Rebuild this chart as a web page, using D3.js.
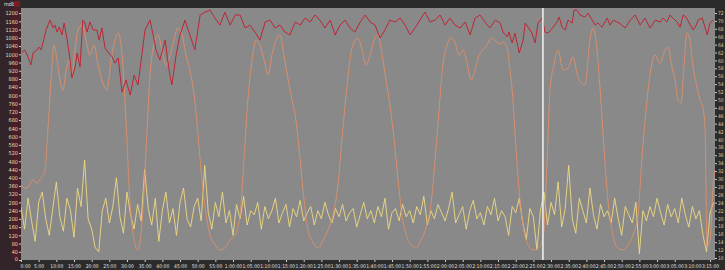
<!DOCTYPE html>
<html>
<head>
<meta charset="utf-8">
<script src="https://cdn.jsdelivr.net/npm/d3@7"></script>
<style>
  body { margin: 0; background: #2b2b2b; }
  svg { display: block; }
</style>
</head>
<body>
<div class="chart"></div>
<script>
// red trace, [minute, value]
var redLine = [
  [0.3, 1011], [1.1, 1021], [2.0, 987], [2.8, 948], [3.4, 1006], [4.5, 1021], [5.1, 1035], [5.7, 1021],
  [6.2, 1055], [7.1, 1118], [8.2, 1166], [9.1, 1128], [9.6, 1142], [10.2, 1108], [10.8, 1132], [11.6, 1094],
  [12.2, 1152], [13.0, 1079], [13.9, 972], [14.4, 885], [15.3, 938], [15.9, 1006], [16.7, 938], [17.5, 1166],
  [18.1, 1152], [18.7, 1108], [19.5, 1157], [20.4, 1118], [21.5, 1118], [22.1, 1069], [22.9, 1128], [23.8, 1030],
  [24.6, 1011], [25.8, 987], [26.6, 957], [27.5, 982], [28.6, 816], [29.7, 875], [30.9, 802], [32.0, 899],
  [33.1, 851], [34.2, 996], [35.1, 1118], [36.5, 1166], [37.4, 1094], [38.2, 1021], [39.3, 972], [40.8, 1069],
  [41.9, 923], [42.7, 851], [43.9, 996], [45.0, 1094], [46.4, 1166], [47.8, 1094], [49.2, 1021], [50.7, 1191],
  [52.1, 1205], [53.5, 1215], [54.9, 1176], [56.3, 1142], [57.7, 1205], [59.2, 1142], [60.6, 1191], [62.0, 1191],
  [63.4, 1128], [64.8, 1142], [66.2, 1108], [67.6, 1069], [69.1, 1157], [70.5, 1166], [71.9, 1128], [73.3, 1142],
  [74.7, 1108], [76.1, 1094], [77.6, 1157], [79.0, 1142], [80.4, 1176], [81.8, 1157], [83.2, 1191], [84.6, 1166],
  [86.0, 1128], [87.5, 1166], [88.9, 1094], [90.3, 1142], [91.7, 1166], [93.1, 1128], [94.5, 1108], [96.0, 1157],
  [97.4, 1191], [98.8, 1157], [100.2, 1142], [101.6, 1079], [103.0, 1118], [104.4, 1166], [105.9, 1157], [107.3, 1176],
  [108.7, 1142], [110.1, 1094], [111.5, 1128], [112.9, 1166], [114.3, 1205], [115.8, 1157], [117.2, 1166], [118.6, 1191],
  [120.0, 1142], [121.4, 1176], [122.8, 1142], [124.3, 1128], [125.7, 1157], [127.1, 1094], [128.5, 1176], [129.9, 1191],
  [131.3, 1157], [132.7, 1128], [134.2, 1166], [135.6, 1152], [136.4, 1108], [137.6, 1084], [138.1, 1108], [139.0, 1055],
  [139.8, 1103], [141.0, 1006], [142.1, 1069], [142.7, 1152], [143.5, 1132], [144.6, 1103], [145.5, 1055], [146.3, 1152],
  [147.5, 1176], [148.3, 1108], [149.2, 1103], [150.6, 1132], [151.7, 1157], [152.3, 1181], [153.1, 1132], [154.0, 1118],
  [154.8, 1166], [156.0, 1152], [156.5, 1215], [157.4, 1215], [158.2, 1191], [159.6, 1181], [160.5, 1200], [161.3, 1176],
  [162.5, 1142], [163.3, 1152], [164.4, 1132], [165.9, 1176], [166.7, 1142], [167.6, 1166], [169.3, 1152], [171.0, 1128],
  [172.4, 1166], [173.8, 1191], [175.2, 1142], [176.6, 1176], [178.0, 1128], [179.5, 1166], [180.9, 1157], [181.7, 1176],
  [182.8, 1157], [183.7, 1191], [184.5, 1176], [185.7, 1157], [186.5, 1132], [187.4, 1191], [188.2, 1181], [189.1, 1152],
  [190.2, 1118], [191.1, 1142], [191.6, 1166], [192.8, 1176], [194.2, 1094], [195.0, 1152], [195.9, 1166]
];

// orange trace, [minute, value]
var orangeLine = [
  [0, 365], [1.1, 350], [2.3, 360], [3.4, 389], [4.5, 374], [5.7, 399], [6.8, 437], [7.6, 632], [8.5, 875],
  [9.3, 1045], [10.2, 972], [11.0, 875], [11.9, 826], [12.7, 914], [13.6, 972], [14.4, 899], [15.3, 1021],
  [16.1, 1118], [17.3, 1142], [18.4, 1069], [19.5, 996], [20.7, 1045], [21.8, 948], [22.9, 875], [24.3, 826],
  [25.5, 972], [26.6, 1069], [27.5, 1103], [28.6, 996], [29.7, 680], [30.8, 292], [32.0, 97], [33.1, 49],
  [34.2, 170], [35.4, 535], [36.5, 899], [37.6, 1045], [38.8, 1094], [39.9, 1021], [41.0, 948], [42.2, 996],
  [43.3, 1069], [44.4, 1128], [45.6, 1094], [46.7, 996], [47.8, 923], [49.0, 802], [50.1, 608], [51.2, 389],
  [52.4, 219], [53.5, 122], [54.9, 73], [56.3, 49], [57.7, 58], [59.1, 97], [60.6, 122], [62.0, 219],
  [63.1, 486], [64.2, 778], [65.4, 972], [66.5, 1069], [67.6, 1045], [68.8, 972], [69.9, 899], [71.0, 996],
  [72.2, 1069], [73.3, 1094], [74.4, 996], [75.6, 875], [76.7, 778], [77.8, 680], [79.0, 486], [80.1, 292],
  [81.2, 146], [82.6, 87], [84.1, 58], [85.5, 97], [86.9, 146], [88.3, 219], [89.7, 365], [90.8, 583],
  [92.0, 802], [93.1, 972], [94.2, 1059], [95.4, 1079], [96.5, 1021], [97.6, 948], [98.8, 996], [99.9, 1069],
  [101.0, 1094], [102.2, 996], [103.3, 875], [104.4, 753], [105.6, 583], [106.7, 389], [107.8, 219], [109.0, 122],
  [110.4, 73], [111.8, 58], [113.2, 97], [114.6, 156], [116.0, 267], [117.2, 486], [118.3, 729], [119.4, 948],
  [120.6, 1045], [121.7, 1079], [122.8, 1059], [124.0, 996], [125.1, 1021], [126.2, 962], [127.4, 875], [128.5, 923],
  [129.6, 996], [130.7, 1021], [131.9, 1045], [133.0, 1079], [134.1, 1069], [135.3, 1050], [136.4, 1059], [137.5, 1035],
  [138.4, 923], [139.0, 826], [140.1, 535], [141.2, 292], [142.3, 146], [143.5, 73], [144.9, 49], [146.3, 58],
  [147.7, 97], [148.9, 486], [149.7, 826], [150.8, 948], [152.0, 1021], [153.4, 923], [154.8, 933], [156.2, 987],
  [157.6, 889], [159.6, 851], [161.0, 1069], [161.9, 1128], [163.0, 1021], [163.9, 826], [165.0, 535], [166.1, 292],
  [167.5, 122], [168.9, 58], [170.4, 49], [171.8, 73], [173.2, 122], [174.6, 219], [175.7, 486], [176.9, 729],
  [178.0, 899], [179.4, 996], [180.8, 957], [182.3, 1021], [183.1, 1035], [184.2, 938], [185.1, 875], [185.9, 778],
  [186.8, 763], [187.6, 938], [188.5, 1103], [189.3, 1069], [190.2, 938], [191.3, 841], [192.2, 778], [193.1, 729],
  [193.6, 632], [193.9, 292], [194.1, 63], [195.0, 97], [195.8, 340], [196.4, 437]
];

// yellow trace, one sample per minute from 0:00
var yellowValues = [
  260, 150, 300, 190, 90, 280, 330, 200, 120, 250, 380,
  210, 140, 300, 240, 110, 350, 260, 486, 200, 150,
  60, 40, 240, 300, 180, 260, 400, 210, 130, 330,
  220, 150, 270, 190, 440, 250, 170, 300, 90, 240,
  330, 180, 250, 120, 280, 350, 200, 160, 260, 300,
  190, 460, 230, 150, 280, 210, 330, 180, 240, 120,
  270, 200, 310, 170, 240, 220, 280, 150, 260, 200,
  240, 300, 180, 230, 270, 160, 250, 210, 290, 190,
  230, 260, 170, 240, 200, 280, 220, 180, 250, 210,
  270, 190, 230, 250, 160, 220, 280, 200, 240, 180,
  260, 210, 300, 150, 230, 250, 190, 270, 210, 240,
  180, 260, 220, 310, 170, 240, 200, 270, 230, 190,
  250, 330, 180, 220, 260, 150, 240, 290, 200, 230,
  170, 260, 220, 300, 190, 240, 210, 120, 260, 230,
  300, 180, 100, 250, 210, 50, 240, 330, 170, 280,
  220, 380, 160, 250, 460, 200, 130, 300, 240, 180,
  350, 220, 150, 270, 210, 240, 180, 300, 200, 120,
  260, 220, 180, 280, 30, 240, 190, 260, 210, 300,
  230, 170, 270, 210, 250, 180, 300, 220, 160, 260,
  200, 240, 120, 40, 230, 280
];

var markerMinute = 147.7;   // white cursor line
var leftTicks = d3.range(0, 1201, 40);
var rightTicks = d3.range(10, 73, 2);
var timeTicks = d3.range(0, 196, 5);

var width = 725;
var height = 270;
var plotLeft = 21, plotRight = 715, plotTop = 8, plotBottom = 260;
var smallFont = 'Liberation Sans Narrow, DejaVu Sans Condensed, sans-serif';

var svg = d3.select('.chart')
  .append('svg')
  .attr('width', width)
  .attr('height', height);

// background pieces
svg.append('rect').attr('width', width).attr('height', height).attr('fill', '#2b2b2b');
svg.append('rect').attr('x', 0).attr('y', 0).attr('width', plotLeft).attr('height', height)
  .attr('fill', '#33242a');
svg.append('rect').attr('x', 11).attr('y', plotTop).attr('width', 9).attr('height', plotBottom - plotTop)
  .attr('fill', '#4a1e26');
svg.append('rect').attr('x', plotLeft).attr('y', plotTop)
  .attr('width', plotRight - plotLeft).attr('height', plotBottom - plotTop)
  .attr('fill', '#898989');

var x = d3.scaleLinear().domain([0, 196.4]).range([plotLeft, plotRight]);
var y = d3.scaleLinear().domain([0, 1225]).range([plotBottom, plotTop]);
var yRight = d3.scaleLinear().domain([10, 72]).range([plotBottom - 2, 13]);

function timeLabel(m) {
  var h = Math.floor(m / 60), mm = m % 60;
  if (h === 0) return mm + ':00';
  return h + ':' + (mm < 10 ? '0' : '') + mm + ':00';
}

// left axis
var leftAxis = svg.append('g')
  .attr('transform', 'translate(' + plotLeft + ',0)')
  .call(d3.axisLeft(y).tickValues(leftTicks).tickSize(2).tickPadding(1).tickFormat(function(d) { return d; }));
leftAxis.select('.domain').remove();
leftAxis.selectAll('line').attr('stroke', '#e0d4a0');
leftAxis.selectAll('text').attr('fill', '#e6dcb0').attr('font-size', '5.5px')
  .attr('font-family', smallFont);
// keep the 0 label clear of the time axis
leftAxis.selectAll('.tick').filter(function(d) { return d === 0; }).select('text').attr('dy', '0.1em');

// right axis
var rightAxis = svg.append('g')
  .attr('transform', 'translate(' + plotRight + ',0)')
  .call(d3.axisRight(yRight).tickValues(rightTicks).tickSize(2).tickPadding(1));
rightAxis.select('.domain').remove();
rightAxis.selectAll('line').attr('stroke', '#d8cca0');
rightAxis.selectAll('text').attr('fill', '#d8cca0').attr('font-size', '5px')
  .attr('font-family', smallFont);

// bottom axis
var bottomAxis = svg.append('g')
  .attr('transform', 'translate(0,' + plotBottom + ')')
  .call(d3.axisBottom(x).tickValues(timeTicks).tickSize(2).tickPadding(2).tickFormat(timeLabel));
bottomAxis.select('.domain').remove();
bottomAxis.selectAll('line').attr('stroke', '#cfcfcf');
bottomAxis.selectAll('text').attr('fill', '#e0e0e0').attr('font-size', '5px')
  .attr('font-family', smallFont);
bottomAxis.selectAll('.tick').filter(function(d) { return d === 0; }).select('text')
  .attr('text-anchor', 'start').attr('x', -1);

// header text
svg.append('text').attr('x', 4).attr('y', 6).attr('fill', '#e0e0e0')
  .attr('font-size', '5.5px').attr('font-family', smallFont).text('mdb');
svg.append('rect').attr('x', 14).attr('y', 1).attr('width', 6).attr('height', 6).attr('fill', '#7a1c24');

var plot = svg.append('g');
svg.append('clipPath').attr('id', 'clip')
  .append('rect').attr('x', plotLeft).attr('y', plotTop)
  .attr('width', plotRight - plotLeft).attr('height', plotBottom - plotTop);
plot.attr('clip-path', 'url(#clip)');

var line = d3.line()
  .x(function(d) { return x(d[0]); })
  .y(function(d) { return y(d[1]); });

var yellowData = yellowValues.map(function(v, i) { return [i, v]; });

plot.append('path').datum(yellowData).attr('d', line)
  .attr('fill', 'none').attr('stroke', '#efd980').attr('stroke-width', 0.9);
plot.append('path').datum(orangeLine).attr('d', line.curve(d3.curveMonotoneX))
  .attr('fill', 'none').attr('stroke', '#e0906a').attr('stroke-width', 0.9);
line.curve(d3.curveLinear);
plot.append('path').datum(redLine).attr('d', line)
  .attr('fill', 'none').attr('stroke', '#be2636').attr('stroke-width', 1);

// cursor
plot.append('line')
  .attr('x1', x(markerMinute)).attr('x2', x(markerMinute))
  .attr('y1', plotTop).attr('y2', plotBottom)
  .attr('stroke', '#f4f4f4').attr('stroke-width', 1.5);
</script>
</body>
</html>
